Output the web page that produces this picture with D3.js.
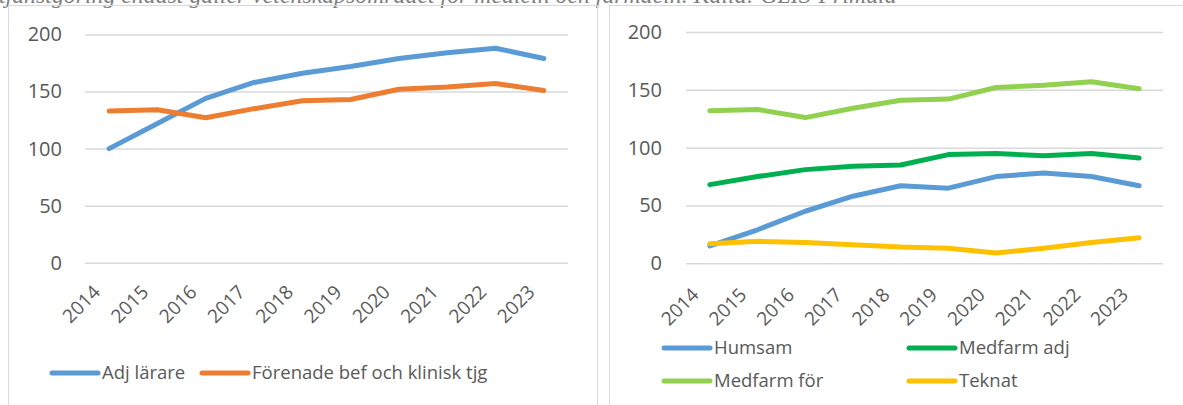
<!DOCTYPE html>
<html>
<head>
<meta charset="utf-8">
<script src="https://cdn.jsdelivr.net/npm/d3@7"></script>
<style>
  html, body { margin: 0; padding: 0; background: #fff; }
  svg { display: block; }
  text { font-family: "Open Sans", sans-serif; fill: #595959; }
</style>
</head>
<body>
<svg id="chart" width="1183" height="405"></svg>
<script>
// ---- data ----
const years = ["2014","2015","2016","2017","2018","2019","2020","2021","2022","2023"];
const yTicks = [0, 50, 100, 150, 200];

// left chart
const adjLarare = [100, 122, 144, 158, 166, 172, 179, 184, 188, 179];
const forenadeBef = [133, 134, 127, 135, 142, 143, 152, 154, 157, 151];

// right chart
const humsam     = [15, 29, 45, 58, 67, 65, 75, 78, 75, 67];
const medfarmAdj = [68, 75, 81, 84, 85, 94, 95, 93, 95, 91];
const medfarmFor = [132, 133, 126, 134, 141, 142, 152, 154, 157, 151];
const teknat     = [17, 19, 18, 16, 14, 13, 9, 13, 18, 22];

const caption = "tjänstgöring endast gäller vetenskapsområdet för medicin och farmacin. Källa: GLIS-Primula";

// ---- drawing ----
const svg = d3.select("#chart");
svg.append("rect").attr("width", 1183).attr("height", 405).attr("fill", "#fff");

// caption (partly above the visible area, as in the reference)
svg.append("text")
  .attr("x", -1).attr("y", 2.5)
  .style("font-family", "'Liberation Serif', serif")
  .style("font-style", "italic")
  .style("font-size", "23.8px")
  .style("fill", "#7f7f7f")
  .text(caption);

// chart frames
svg.append("rect").attr("x", 8.5).attr("y", 5.5).attr("width", 589).attr("height", 420)
  .attr("fill", "none").attr("stroke", "#d9d9d9").attr("stroke-width", 1);
svg.append("rect").attr("x", 609.5).attr("y", 5.5).attr("width", 600).attr("height", 420)
  .attr("fill", "none").attr("stroke", "#d9d9d9").attr("stroke-width", 1);

function drawPanel(cfg) {
  const g = svg.append("g");
  const x = d3.scalePoint().domain(years).range([cfg.x0, cfg.x1]).padding(0.5);
  const y = d3.scaleLinear().domain([0, 200]).range([cfg.y0, cfg.y1]);

  // y axis with gridlines
  const ya = g.append("g").attr("transform", `translate(${cfg.x0},0)`)
    .call(d3.axisLeft(y).tickValues(yTicks).tickSize(-(cfg.x1 - cfg.x0)).tickPadding(cfg.yPad));
  ya.select(".domain").remove();
  ya.selectAll(".tick line").attr("stroke", "#d9d9d9").attr("stroke-width", 1.5);
  ya.selectAll(".tick text").style("font-size", "20px").style("font-family", "'Open Sans', sans-serif").attr("fill", "#595959");

  // x axis labels
  const xa = g.append("g").attr("transform", `translate(0,${cfg.y0})`)
    .call(d3.axisBottom(x).tickSize(0));
  xa.select(".domain").remove();
  xa.selectAll(".tick text")
    .style("font-size", "19px").style("font-family", "'Open Sans', sans-serif").attr("fill", "#595959")
    .attr("x", 0).attr("y", 0).attr("dy", "0.35em")
    .attr("text-anchor", "end")
    .attr("transform", `translate(${cfg.lx},${cfg.ly}) rotate(-45)`);

  const line = d3.line().x((d, i) => x(years[i])).y(d => y(d));
  cfg.series.forEach(s => {
    g.append("path").datum(s.values)
      .attr("fill", "none").attr("stroke", s.color).attr("stroke-width", 5)
      .attr("stroke-linecap", "round").attr("stroke-linejoin", "round")
      .attr("d", line);
  });

  // legend
  cfg.series.forEach(s => {
    const lg = g.append("g").attr("transform", `translate(${s.lgx},${s.lgy})`);
    lg.append("line").attr("x1", 0).attr("x2", 46).attr("y1", 0).attr("y2", 0)
      .attr("stroke", s.color).attr("stroke-width", 5).attr("stroke-linecap", "round");
    lg.append("text").attr("x", 50).attr("y", 0).attr("dy", "0.35em")
      .style("font-size", "18.5px").text(s.name);
  });
}

drawPanel({
  x0: 85, x1: 568, y0: 262.7, y1: 34.5, yPad: 23, lx: -13, ly: 26,
  series: [
    { name: "Adj lärare", values: adjLarare, color: "#5b9bd5", lgx: 52, lgy: 373 },
    { name: "Förenade bef och klinisk tjg", values: forenadeBef, color: "#ed7d31", lgx: 202, lgy: 373 }
  ]
});

drawPanel({
  x0: 686, x1: 1163, y0: 263.3, y1: 32, yPad: 24, lx: -15, ly: 28,
  series: [
    { name: "Humsam", values: humsam, color: "#5b9bd5", lgx: 664, lgy: 348 },
    { name: "Medfarm adj", values: medfarmAdj, color: "#00b050", lgx: 909, lgy: 348 },
    { name: "Medfarm för", values: medfarmFor, color: "#92d050", lgx: 664, lgy: 381 },
    { name: "Teknat", values: teknat, color: "#ffc000", lgx: 909, lgy: 381 }
  ]
});
</script>
</body>
</html>
